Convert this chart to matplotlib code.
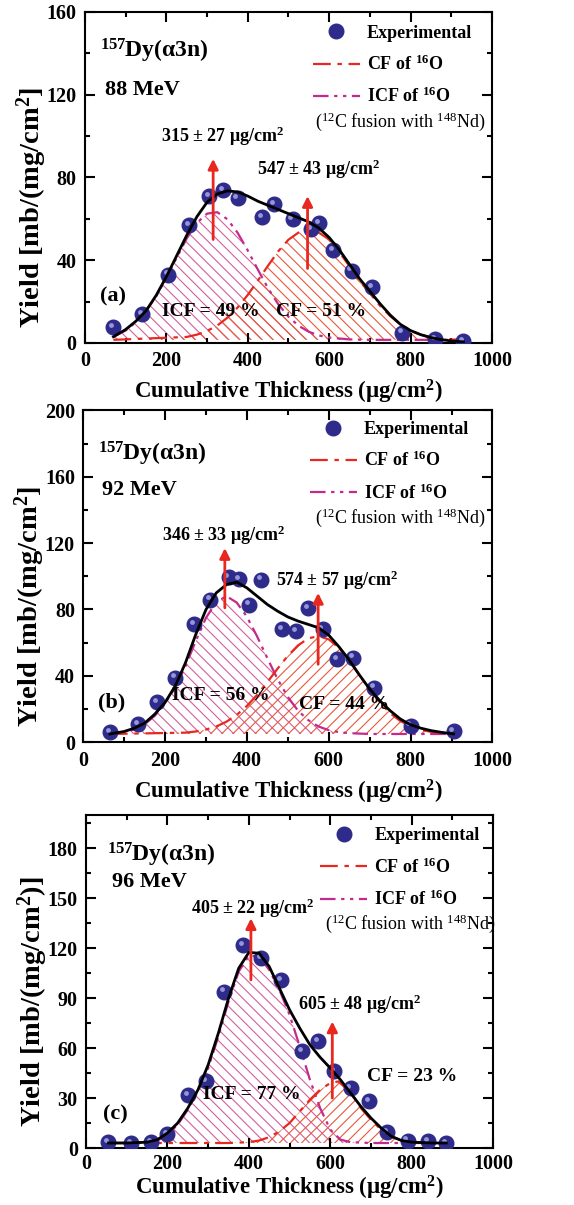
import matplotlib
matplotlib.use('Agg')
import matplotlib.pyplot as plt
from matplotlib.lines import Line2D
from matplotlib.ticker import MultipleLocator
from matplotlib.transforms import offset_copy

plt.rcParams['font.family'] = 'Liberation Serif'
plt.rcParams['font.weight'] = 'bold'
plt.rcParams['axes.labelweight'] = 'bold'
plt.rcParams['mathtext.fontset'] = 'custom'
plt.rcParams['mathtext.rm'] = 'Liberation Serif:bold'
plt.rcParams['mathtext.it'] = 'Liberation Serif:italic:bold'
plt.rcParams['mathtext.bf'] = 'Liberation Serif:bold'
plt.rcParams['hatch.linewidth'] = 0.8

# ---- panel (a) 88 MeV ----
a_thick = [70, 140, 205, 255, 305, 340, 375, 435, 465, 510, 555, 575, 610, 655, 705, 780, 860, 930]
a_yield = [7.5, 14, 33, 57, 71, 74, 70, 61, 67, 60, 55, 58, 45, 35, 27, 5, 2, 1]
a_fit_x = [70, 100, 125, 150, 175, 200, 225, 250, 275, 300, 325, 350, 375, 400, 425, 450, 475, 500,
           525, 550, 575, 600, 625, 650, 675, 700, 725, 750, 775, 800, 825, 850, 875, 900, 930]
a_fit_y = [3, 6.5, 10.5, 15.5, 23, 32, 42, 52, 61, 68, 72, 73.5, 73, 71, 68.5, 66.5, 64.5, 62.5,
           60.5, 58.5, 55.5, 51, 45, 38, 31, 25, 19, 13.5, 9, 6, 4, 2.6, 1.6, 1, 0.5]
a_icf_x = [70, 100, 125, 150, 175, 200, 225, 250, 275, 300, 325, 350, 375, 400, 425, 450, 475, 500,
           525, 550, 575, 600, 650, 700, 930]
a_icf_y = [3, 6, 10, 15.5, 22.5, 31.5, 41, 50.5, 58, 62.5, 63.2, 59.8, 53.3, 44.7, 35.4, 26.4, 18.7, 12.7,
           8.3, 5.4, 3.6, 2.6, 1.7, 1.5, 1.5]
a_cf_x = [70, 250, 275, 300, 325, 350, 375, 400, 425, 450, 475, 500, 525, 550, 575, 600, 625, 650,
          675, 700, 725, 750, 775, 800, 825, 850, 875, 900, 930]
a_cf_y = [1.5, 2.9, 4.0, 5.8, 8.4, 12.2, 17.1, 23.2, 30.2, 37.4, 44.3, 49.9, 53.4, 54.5, 53.3, 50, 44, 37,
          30, 24, 18, 13, 9, 6, 4, 2.8, 2, 1.6, 1.5]
a_centroids = [315, 547]
a_centroid_labels = ['315 ± 27 μg/cm$^2$', '547 ± 43 μg/cm$^2$']
a_fractions = ['ICF = 49 %', 'CF = 51 %']

# ---- panel (b) 92 MeV ----
b_thick = [65, 135, 180, 225, 270, 310, 355, 380, 405, 435, 485, 520, 550, 585, 620, 660, 710, 800, 905]
b_yield = [6, 11, 24, 39, 71, 86, 99.5, 98.5, 83, 98, 68, 67, 81, 68, 50, 51, 33, 10, 6.5]
b_fit_x = [65, 100, 125, 150, 175, 200, 225, 250, 275, 300, 325, 350, 375, 400, 425, 450, 475, 500,
           525, 550, 575, 600, 625, 650, 675, 700, 725, 750, 775, 800, 825, 850, 875, 905]
b_fit_y = [5, 6.5, 8.5, 11.5, 17, 24, 34, 48, 65, 80, 90, 95, 96.5, 93, 88, 83, 79, 75.5,
           73, 71, 69, 64.5, 57.5, 49.5, 40.5, 32, 25, 19, 14, 10.5, 8.5, 7, 6, 5]
b_icf_x = [65, 100, 125, 150, 175, 200, 225, 250, 275, 300, 325, 350, 375, 400, 425, 450, 475, 500,
           525, 550, 575, 600, 625, 650, 700, 905]
b_icf_y = [5.3, 6.2, 7.8, 10.8, 16, 23.5, 33, 46, 61, 75, 84.5, 88, 84.2, 75.6, 63.7, 50.6, 38, 27.3,
           19, 13.3, 9.5, 7.3, 6.1, 5.5, 5, 5]
b_cf_x = [65, 250, 275, 300, 325, 350, 375, 400, 425, 450, 475, 500, 525, 550, 575, 600, 625, 650,
          675, 700, 725, 750, 775, 800, 825, 850, 875, 905]
b_cf_y = [5, 5.8, 6.5, 7.7, 9.5, 12.4, 16.5, 21.9, 28.6, 36.3, 44.4, 52.1, 58.4, 62.6, 64, 62, 56.8, 49.2,
          40.4, 31.7, 23.9, 17.5, 12.8, 9.6, 7.5, 6.3, 5.6, 5.2]
b_centroids = [346, 574]
b_centroid_labels = ['346 ± 33 μg/cm$^2$', '574 ± 57 μg/cm$^2$']
b_fractions = ['ICF = 56 %', 'CF = 44 %']

# ---- panel (c) 96 MeV ----
c_thick = [55, 110, 160, 200, 250, 295, 340, 385, 430, 480, 530, 570, 610, 650, 695, 740, 790, 840, 885]
c_yield = [3.5, 3, 3.5, 8.5, 32, 40, 94, 122, 114, 101, 58, 64, 46, 36, 28, 9.5, 4.5, 4, 3]
c_fit_x = [55, 100, 150, 175, 200, 225, 250, 275, 300, 325, 350, 375, 400, 425, 450, 475, 500, 525,
           550, 575, 600, 625, 650, 675, 700, 725, 750, 775, 800, 850, 885]
c_fit_y = [3, 3, 3.5, 5, 9, 15, 24, 35, 50, 69, 90, 108, 117.5, 117, 109, 96, 83, 72,
           62, 54.5, 48, 41, 33, 25, 18, 12, 7, 4.5, 3.5, 3, 3]
c_icf_x = [55, 150, 175, 200, 225, 250, 275, 300, 325, 350, 375, 400, 425, 450, 475, 500, 525, 550,
           575, 600, 625, 650, 700, 885]
c_icf_y = [3, 3.2, 4.5, 8, 14, 23, 34, 48, 67, 88, 106, 115.5, 115, 107, 95, 80, 61, 41,
           24, 11, 5, 3.5, 3, 3]
c_cf_x = [55, 350, 400, 425, 450, 475, 500, 525, 550, 575, 600, 620, 640, 660, 675, 700, 725, 750,
          775, 800, 850, 885]
c_cf_y = [3, 3, 3.5, 4.5, 6.5, 10, 15, 22, 29, 35, 39, 40, 35.5, 30, 24, 17, 11, 7,
          4.5, 3.5, 3, 3]
c_centroids = [405, 605]
c_centroid_labels = ['405 ± 22 μg/cm$^2$', '605 ± 48 μg/cm$^2$']
c_fractions = ['ICF = 77 %', 'CF = 23 %']

BALL = '#2e2b8a'
SHINE = '#a8a8e8'
CF_COL = '#e8281e'
ICF_COL = '#c42a8c'
ICF_HATCH = '#d2609a'
CF_HATCH = '#e8583a'
CF_DASH = (8, 3, 2, 3)
ICF_DASH = (7, 2.5, 1.5, 2.5, 1.5, 2.5)

panels = [
    dict(rect=[0.148, 0.7154, 0.709, 0.2747], thick=a_thick, yld=a_yield,
         fit=(a_fit_x, a_fit_y), icf=(a_icf_x, a_icf_y), cf=(a_cf_x, a_cf_y), base=1.5,
         cents=a_centroids, clabels=a_centroid_labels, fracs=a_fractions,
         ymax=160, ystep=40, ylabel='Yield [mb/(mg/cm$^2$]', energy='88 MeV', tag='(a)',
         cf_hatch='\\\\\\', arrows=[(50, 89), (36, 71)],
         clab_pos=[(338, 100), (575, 84)], frac_pos=[(310, 15.3), (580, 15)],
         title_pos=(37, 141), energy_pos=(49, 122.5), tag_pos=(70, 22.6),
         leg_anchor=(0.951, 0.962), fusion_pos=(565, 107), ylab_y=0.41, xpad=5, tpad=6),
    dict(rect=[0.145, 0.384, 0.713, 0.2755], thick=b_thick, yld=b_yield,
         fit=(b_fit_x, b_fit_y), icf=(b_icf_x, b_icf_y), cf=(b_cf_x, b_cf_y), base=5,
         cents=b_centroids, clabels=b_centroid_labels, fracs=b_fractions,
         ymax=200, ystep=40, ylabel='Yield [mb/(mg/cm$^2$]', energy='92 MeV', tag='(b)',
         cf_hatch='///', arrows=[(81, 117), (47, 90)],
         clab_pos=[(343, 124.6), (620, 97.5)], frac_pos=[(335, 28), (637, 23)],
         title_pos=(37, 174), energy_pos=(45, 152), tag_pos=(69, 24),
         leg_anchor=(0.943, 0.968), fusion_pos=(567, 135), ylab_y=0.41, xpad=5, tpad=6),
    dict(rect=[0.150, 0.0473, 0.709, 0.2763], thick=c_thick, yld=c_yield,
         fit=(c_fit_x, c_fit_y), icf=(c_icf_x, c_icf_y), cf=(c_cf_x, c_cf_y), base=3,
         cents=c_centroids, clabels=c_centroid_labels, fracs=c_fractions,
         ymax=200, ystep=30, ylabel='Yield [mb/(mg/cm$^2$)]', energy='96 MeV', tag='(c)',
         cf_hatch='///', arrows=[(101, 138), (30, 76)],
         clab_pos=[(410, 144), (672, 86.5)], frac_pos=[(407, 32), (801, 43)],
         title_pos=(51, 176), energy_pos=(63, 160), tag_pos=(71, 20),
         leg_anchor=(0.967, 0.963), fusion_pos=(587, 135), ylab_y=0.44, xpad=0, tpad=4),
]


def draw_panel(fig, p):
    ax = fig.add_axes(p['rect'])
    icf_x, icf_y = p['icf']
    cf_x, cf_y = p['cf']
    ax.fill_between(icf_x, p['base'], icf_y, facecolor='none', edgecolor=ICF_HATCH,
                    hatch='\\\\\\', linewidth=0, zorder=1)
    ax.fill_between(cf_x, p['base'], cf_y, facecolor='none', edgecolor=CF_HATCH,
                    hatch=p['cf_hatch'], linewidth=0, zorder=1)
    ax.plot(icf_x, icf_y, color=ICF_COL, lw=1.6, dashes=ICF_DASH, zorder=2)
    ax.plot(cf_x, cf_y, color=CF_COL, lw=1.6, dashes=CF_DASH, zorder=2)
    # balls with a little highlight
    ax.plot(p['thick'], p['yld'], 'o', ms=10.5, color=BALL, mec=BALL, zorder=3)
    shine = offset_copy(ax.transData, fig=fig, x=-2.2, y=2.2, units='dots')
    ax.plot(p['thick'], p['yld'], 'o', ms=3.5, color=SHINE, mec='none', alpha=0.85,
            transform=shine, zorder=3.5)
    fx, fy = p['fit']
    ax.plot(fx, fy, color='black', lw=2, zorder=4)

    for cx, (y0, y1) in zip(p['cents'], p['arrows']):
        ax.annotate('', xy=(cx, y1), xytext=(cx, y0),
                    arrowprops=dict(arrowstyle='-|>', color=CF_COL, lw=2,
                                    mutation_scale=15, shrinkA=0, shrinkB=0), zorder=5)
    for lab, (lx, ly) in zip(p['clabels'], p['clab_pos']):
        ax.text(lx, ly, lab, ha='center', va='center', fontsize=13)
    for lab, (lx, ly) in zip(p['fracs'], p['frac_pos']):
        ax.text(lx, ly, lab, ha='center', va='center', fontsize=14, zorder=6)

    ax.text(*p['title_pos'], '$^{157}$Dy(α3n)', ha='left', va='center', fontsize=17)
    ax.text(*p['energy_pos'], p['energy'], ha='left', va='center', fontsize=16)
    ax.text(*p['tag_pos'], p['tag'], ha='center', va='center', fontsize=16)

    handles = [Line2D([], [], ls='none', marker='o', ms=10.5, color=BALL),
               Line2D([], [], color=CF_COL, lw=1.6, dashes=CF_DASH),
               Line2D([], [], color=ICF_COL, lw=1.6, dashes=ICF_DASH)]
    ax.legend(handles, ['Experimental', 'CF of $^{16}$O', 'ICF of $^{16}$O'],
              loc='upper right', bbox_to_anchor=p['leg_anchor'], frameon=False,
              fontsize=13, handlelength=2.6, handletextpad=0.4, labelspacing=0.72,
              borderpad=0, borderaxespad=0)
    ax.text(*p['fusion_pos'], r'($\mathregular{^{12}}$C fusion with $\mathregular{^{148}}$Nd)',
            ha='left', va='center', fontsize=13, fontweight='normal')

    ax.set_xlim(0, 1000)
    ax.set_ylim(0, p['ymax'])
    ax.xaxis.set_major_locator(MultipleLocator(200))
    ax.xaxis.set_minor_locator(MultipleLocator(100))
    ax.yaxis.set_major_locator(MultipleLocator(p['ystep']))
    ax.yaxis.set_minor_locator(MultipleLocator(p['ystep'] / 2))
    if p['ystep'] == 30:
        ax.set_yticks([0, 30, 60, 90, 120, 150, 180])
    ax.tick_params(which='both', direction='in', top=True, right=True, width=1.5, labelsize=14.5)
    ax.tick_params(which='major', length=7, pad=6)
    ax.tick_params(axis='x', which='major', pad=p['tpad'])
    ax.tick_params(which='minor', length=3.5)
    for lab in ax.get_xticklabels() + ax.get_yticklabels():
        lab.set_fontweight('bold')
    for s in ax.spines.values():
        s.set_linewidth(1.5)
    ax.set_xlabel('Cumulative Thickness (μg/cm$^2$)', fontsize=16.5, labelpad=p['xpad'])
    ax.set_ylabel(p['ylabel'], fontsize=20.5, va='center')
    ax.yaxis.set_label_coords(-0.13, p['ylab_y'])
    return ax


fig = plt.figure(figsize=(5.74, 12.05), dpi=100)
for p in panels:
    draw_panel(fig, p)
fig.savefig('out.png', dpi=100)
